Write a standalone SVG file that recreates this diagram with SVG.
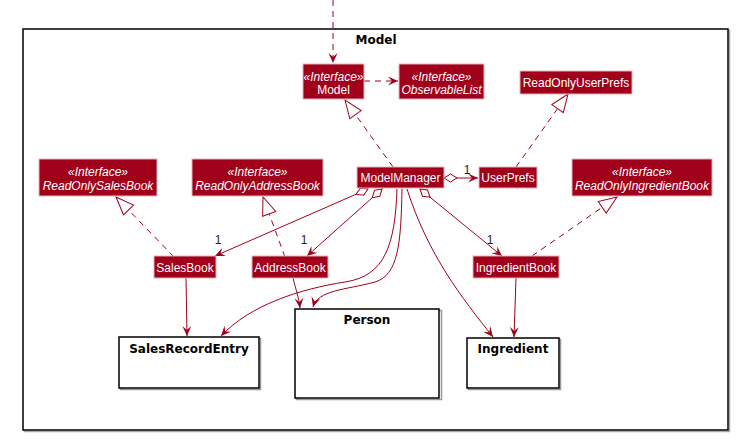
<svg xmlns="http://www.w3.org/2000/svg" width="745" height="445" viewBox="0 0 745 445">
<style>
.n rect{fill:#A0001A;stroke:#e6b3ba;stroke-width:1}
.n text{fill:#fff;font-family:"Liberation Sans",Arial,sans-serif;font-size:12px;text-anchor:middle}
.n .i{font-style:italic}
.b rect.m{fill:#fff;stroke:#000;stroke-width:1.5}
.b rect.s{fill:none;stroke:#999;stroke-width:1.5}
.t{font-family:"DejaVu Sans",sans-serif;font-weight:bold;font-size:12px;fill:#000;text-anchor:middle}
#edges path{fill:none;stroke:#A0001A;stroke-width:1}
#edges .d{stroke-dasharray:6,5}
.ar{marker-end:url(#arrow)}
.re{marker-end:url(#tri)}
.ag{marker-start:url(#dia);marker-end:url(#arrow)}
.lbl{font-family:"Liberation Sans",Arial,sans-serif;font-size:12px;fill:#222;text-anchor:middle}
</style>
<defs>
<marker id="arrow" markerUnits="userSpaceOnUse" markerWidth="12" markerHeight="12" refX="10" refY="5" orient="auto" overflow="visible">
<path d="M10,5 L0,0.5 L4,5 L0,9.5 Z" fill="#A0001A"/>
</marker>
<marker id="tri" markerUnits="userSpaceOnUse" markerWidth="20" markerHeight="16" refX="19" refY="8" orient="auto" overflow="visible">
<path d="M19,8 L1,1 L1,15 Z" fill="#fff" stroke="#A0001A" stroke-width="1"/>
</marker>
<marker id="dia" markerUnits="userSpaceOnUse" markerWidth="14" markerHeight="10" refX="0" refY="4" orient="auto" overflow="visible">
<path d="M0,4 L6.5,0 L13,4 L6.5,8 Z" fill="#fff" stroke="#A0001A" stroke-width="1"/>
</marker>
</defs>
<rect x="0" y="0" width="745" height="445" fill="#fff"/>

<g id="package-model">
<rect x="24.5" y="30.5" width="705" height="401" fill="none" stroke="#aaa" stroke-width="1.5"/>
<rect x="23" y="29" width="705" height="401" fill="#fff" stroke="#000" stroke-width="1.5"/>
<text class="t" x="376" y="44">Model</text>
</g>

<g id="edges">
<path class="d ar" d="M333,0 L333,63"/>
<path class="d ar" d="M364,81 L398,81"/>
<path class="d re" d="M393,167 L345,100"/>
<path class="ag" d="M444,178 L478,178"/>
<path class="d re" d="M516,167 L568,94"/>
<path class="d re" d="M174,257 L116,197"/>
<path class="d re" d="M285,257 L263,197"/>
<path class="d re" d="M532,256 L617,197"/>
<path class="ag" d="M368,189 L215,256"/>
<path class="ag" d="M382,189 L307,256"/>
<path class="ag" d="M420,189 L502,256"/>
<path class="ar" d="M397,189 C395,245 385,276 345,282 C300,289 250,305 221,336"/>
<path class="ar" d="M402,189 C401,245 398,275 375,282 C345,290 318,290 313,307"/>
<path class="ar" d="M407,189 C428,255 462,298 493,337"/>
<path class="ar" d="M293,278 C296,290 299,298 300,308"/>
<path class="ar" d="M186,278 L187,336"/>
<path class="ar" d="M516,278 L514,337"/>
<text class="lbl" x="467" y="174">1</text>
<text class="lbl" x="218" y="244">1</text>
<text class="lbl" x="304" y="244">1</text>
<text class="lbl" x="490" y="244">1</text>
</g>

<g id="Model" class="n">
<rect x="303" y="64" width="61" height="35"/>
<text class="i" x="333.5" y="80.5">«Interface»</text>
<text x="333.5" y="94">Model</text>
</g>
<g id="ObservableList" class="n">
<rect x="399" y="64" width="85" height="35"/>
<text class="i" x="441.5" y="80.5">«Interface»</text>
<text class="i" x="441.5" y="94">ObservableList</text>
</g>
<g id="ReadOnlyUserPrefs" class="n">
<rect x="520" y="71" width="112" height="23"/>
<text x="576" y="87">ReadOnlyUserPrefs</text>
</g>
<g id="ModelManager" class="n">
<rect x="357" y="167" width="87" height="21"/>
<text x="400.5" y="182">ModelManager</text>
</g>
<g id="UserPrefs" class="n">
<rect x="479" y="167" width="58" height="21"/>
<text x="508" y="182">UserPrefs</text>
</g>
<g id="ReadOnlySalesBook" class="n">
<rect x="39" y="159" width="118" height="37"/>
<text class="i" x="98" y="176">«Interface»</text>
<text class="i" x="98" y="190">ReadOnlySalesBook</text>
</g>
<g id="ReadOnlyAddressBook" class="n">
<rect x="192" y="159" width="131" height="37"/>
<text class="i" x="257.5" y="176">«Interface»</text>
<text class="i" x="257.5" y="190">ReadOnlyAddressBook</text>
</g>
<g id="ReadOnlyIngredientBook" class="n">
<rect x="572" y="159" width="140" height="37"/>
<text class="i" x="642" y="176">«Interface»</text>
<text class="i" x="642" y="190">ReadOnlyIngredientBook</text>
</g>
<g id="SalesBook" class="n">
<rect x="154" y="256" width="62" height="22"/>
<text x="185" y="271.5">SalesBook</text>
</g>
<g id="AddressBook" class="n">
<rect x="252" y="256" width="76" height="22"/>
<text x="290" y="271.5">AddressBook</text>
</g>
<g id="IngredientBook" class="n">
<rect x="473" y="256" width="86" height="22"/>
<text x="516" y="271.5">IngredientBook</text>
</g>

<g id="SalesRecordEntry" class="b">
<rect class="s" x="120.5" y="338.5" width="140" height="51"/>
<rect class="m" x="119" y="337" width="140" height="51"/>
<text class="t" x="189" y="353">SalesRecordEntry</text>
</g>
<g id="Person" class="b">
<rect class="s" x="296.5" y="310.5" width="145" height="89"/>
<rect class="m" x="295" y="309" width="144" height="89"/>
<text class="t" x="367" y="324">Person</text>
</g>
<g id="Ingredient" class="b">
<rect class="s" x="468.5" y="339.5" width="92" height="50"/>
<rect class="m" x="467" y="338" width="92" height="50"/>
<text class="t" x="513" y="353">Ingredient</text>
</g>
</svg>
